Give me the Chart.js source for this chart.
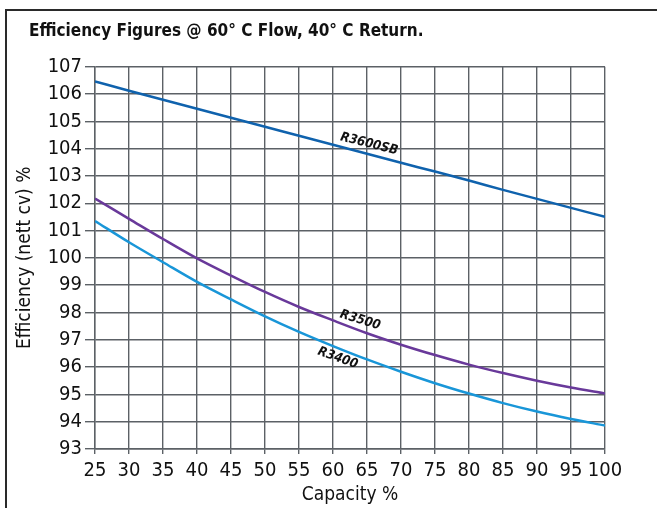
<!DOCTYPE html>
<html>
<head>
<meta charset="utf-8">
<script src="https://cdn.jsdelivr.net/npm/chart.js@4.4.1/dist/chart.umd.min.js"></script>
<style>
    body { margin: 0; background: #fff; overflow: hidden; }
    #wrap { position: relative; width: 657px; height: 508px; overflow: hidden; }
    #frame { position: absolute; left: 5px; top: 9px; width: 700px; height: 600px; border: 2px solid #2a2a2a; }
    #chart { position: absolute; left: 0; top: 0; }
</style>
</head>
<body>
<div id="wrap">
    <div id="frame"></div>
    <canvas id="chart" width="657" height="508"></canvas>
</div>
<script>
// capacity % on the x axis
const capacity = [25, 30, 35, 40, 45, 50, 55, 60, 65, 70, 75, 80, 85, 90, 95, 100];

// efficiency (nett cv) %
const r3600sb = [106.46, 106.12, 105.79, 105.46, 105.13, 104.8, 104.47, 104.14, 103.81, 103.48, 103.16, 102.83, 102.49, 102.16, 101.83, 101.5];
const r3500 = [102.17, 101.43, 100.69, 99.98, 99.35, 98.75, 98.2, 97.71, 97.24, 96.82, 96.44, 96.09, 95.78, 95.5, 95.25, 95.03];
const r3400 = [101.35, 100.57, 99.84, 99.12, 98.48, 97.86, 97.29, 96.77, 96.28, 95.83, 95.41, 95.03, 94.68, 94.37, 94.1, 93.86];

// curve names written along the lines: [text, capacity, efficiency, angle in degrees]
const curveLabels = [
    ['R3600SB', 65.3, 104.17, 14],
    ['R3500', 64.0, 97.72, 17],
    ['R3400', 60.7, 96.33, 20]
];

const FONT = "'Liberation Sans Narrow', 'DejaVu Sans Condensed', 'Roboto Condensed', 'Arial Narrow', sans-serif";
Chart.defaults.font.family = FONT;
Chart.defaults.color = '#111';

const gridColor = '#5c6166';

const curveLabelPlugin = {
    id: 'curveLabels',
    afterDatasetsDraw(chart) {
        const ctx = chart.ctx;
        const xs = chart.scales.x;
        const ys = chart.scales.y;
        ctx.save();
        ctx.font = 'italic bold 13px ' + FONT;
        ctx.fillStyle = '#111';
        ctx.textAlign = 'center';
        ctx.textBaseline = 'middle';
        curveLabels.forEach(function(l) {
            const px = xs.getPixelForValue(l[1]);
            const py = ys.getPixelForValue(l[2]);
            ctx.save();
            ctx.translate(px, py);
            ctx.rotate(l[3] * Math.PI / 180);
            ctx.fillText(l[0], 0, 0);
            ctx.restore();
        });
        ctx.restore();
    }
};

function makeSet(label, data, color) {
    return {
        label: label,
        data: data,
        borderColor: color,
        backgroundColor: color,
        borderWidth: 2.5,
        pointRadius: 0,
        fill: false,
        cubicInterpolationMode: 'monotone'
    };
}

const ctx = document.getElementById('chart').getContext('2d');
new Chart(ctx, {
    type: 'line',
    data: {
        labels: capacity,
        datasets: [
            makeSet('R3600SB', r3600sb, '#0f62ad'),
            makeSet('R3500', r3500, '#69399a'),
            makeSet('R3400', r3400, '#1996d8')
        ]
    },
    options: {
        responsive: false,
        animation: false,
        layout: {
            padding: { left: 29, right: 52, top: 0, bottom: 0 }
        },
        plugins: {
            legend: { display: false },
            tooltip: { enabled: false },
            title: {
                display: true,
                text: 'Efficiency Figures @ 60° C Flow, 40° C Return.',
                align: 'start',
                color: '#111',
                font: { size: 17, weight: 'bold' },
                padding: { top: 21, bottom: 25.3 }
            }
        },
        scales: {
            x: {
                type: 'linear',
                min: 25,
                max: 100,
                afterFit: function(scale) { scale.height = 59; },
                ticks: {
                    stepSize: 5,
                    padding: 5,
                    maxRotation: 0,
                    autoSkip: false,
                    color: '#111',
                    font: { size: 20 }
                },
                grid: {
                    color: gridColor,
                    lineWidth: 1.4,
                    tickLength: 5,
                    tickColor: gridColor
                },
                border: { color: gridColor, width: 1.4 },
                title: {
                    display: true,
                    text: 'Capacity %',
                    color: '#111',
                    font: { size: 19 },
                    padding: { top: 0, bottom: 2 }
                }
            },
            y: {
                min: 93,
                max: 107,
                afterFit: function(scale) { scale.width = 66; },
                ticks: {
                    stepSize: 1,
                    padding: 3,
                    color: '#111',
                    font: { size: 20 }
                },
                grid: {
                    color: gridColor,
                    lineWidth: 1.4,
                    tickLength: 10,
                    tickColor: gridColor
                },
                border: { color: gridColor, width: 1.4 },
                title: {
                    display: true,
                    text: 'Efficiency (nett cv) %',
                    color: '#111',
                    font: { size: 19 },
                    padding: { top: -15, bottom: 0 }
                }
            }
        }
    },
    plugins: [curveLabelPlugin]
});
</script>
</body>
</html>
